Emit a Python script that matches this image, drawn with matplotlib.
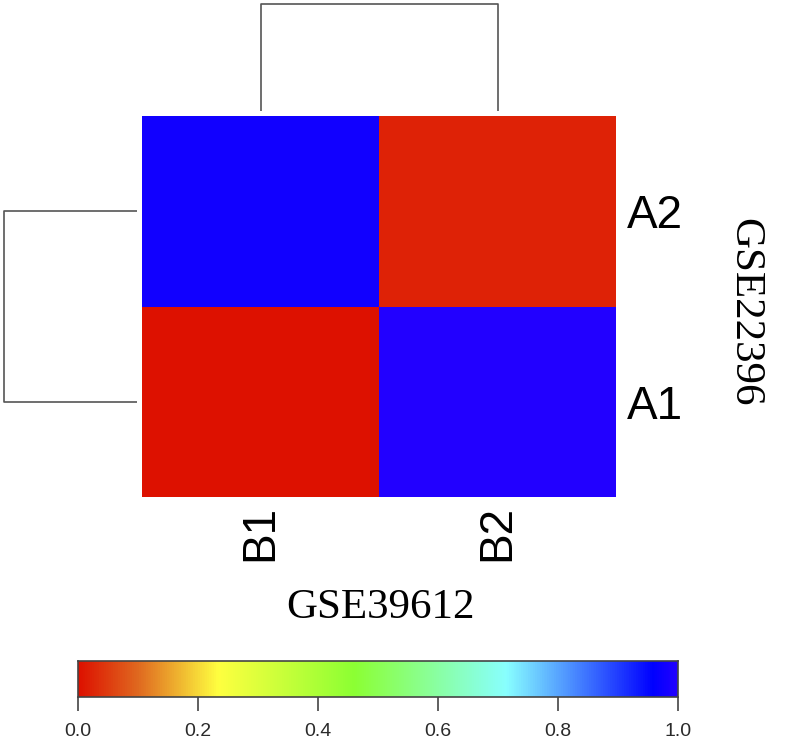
import numpy as np
import matplotlib.pyplot as plt
from matplotlib.colors import LinearSegmentedColormap

# --------------------------
# data
# --------------------------
col_labels = ['B1', 'B2']
row_labels = ['A1', 'A2']   # bottom to top
values = np.array([
    [0.00, 1.00],   # A1
    [0.98, 0.02],   # A2
])
cbar_ticks = [0.0, 0.2, 0.4, 0.6, 0.8, 1.0]

# jet-like palette used in the original figure
cmap = LinearSegmentedColormap.from_list('rainbow_r', [
    (0.00, '#dd1100'),
    (0.10, '#e06a20'),
    (0.233, '#ffff40'),
    (0.46, '#8cff33'),
    (0.715, '#88ffff'),
    (0.96, '#0000ff'),
    (1.00, '#2200ff'),
])

W, H = 792, 746
fig = plt.figure(figsize=(W / 100, H / 100), dpi=100)


def fx(px):
    return px / W


def fy(px):
    return 1 - px / H


# heatmap
ax = fig.add_axes([fx(142), fy(497), fx(616 - 142), (497 - 116) / H])
ax.pcolormesh(np.arange(3), np.arange(3), values, cmap=cmap, vmin=0, vmax=1)
ax.set_xlim(0, 2)
ax.set_ylim(0, 2)
for s in ax.spines.values():
    s.set_visible(False)
ax.set_xticks([0.5, 1.5])
ax.set_xticklabels(col_labels, rotation=90, fontsize=33, family='Liberation Sans')
ax.set_yticks([0.5, 1.5])
ax.set_yticklabels(row_labels, fontsize=33, family='Liberation Sans')
ax.yaxis.tick_right()
ax.tick_params(length=0)
ax.tick_params(axis='y', pad=8)
ax.tick_params(axis='x', pad=6)

# column dendrogram
line_kw = dict(color='#555555', lw=1.2, solid_capstyle='butt')
axc = fig.add_axes([fx(142), fy(111), fx(616 - 142), (111 - 4) / H])
axc.set_xlim(0, 2)
axc.set_ylim(0, 1)
axc.plot([0.5, 0.5, 1.5, 1.5], [0, 1, 1, 0], **line_kw, clip_on=False)
axc.axis('off')

# row dendrogram
axr = fig.add_axes([fx(4), fy(497), fx(137 - 4), (497 - 116) / H])
axr.set_ylim(0, 2)
axr.set_xlim(0, 1)
axr.plot([1, 0, 0, 1], [0.5, 0.5, 1.5, 1.5], **line_kw, clip_on=False)
axr.axis('off')

# axis titles
fig.text(fx(380), fy(608), 'GSE39612', fontsize=31, family='Liberation Serif',
         ha='center', va='center')
fig.text(fx(745), fy(312), 'GSE22396', fontsize=31, family='Liberation Serif',
         ha='center', va='center', rotation=270)

# colour key
axb = fig.add_axes([fx(78), fy(697), fx(678 - 78), (697 - 661) / H])
grad = np.linspace(0, 1, 512).reshape(1, -1)
axb.imshow(grad, aspect='auto', cmap=cmap, extent=[0, 1, 0, 1])
axb.set_xlim(0, 1)
axb.set_yticks([])
axb.set_xticks(cbar_ticks)
axb.set_xticklabels([f'{t:.1f}' for t in cbar_ticks], fontsize=14,
                    family='Liberation Sans', color='#2a2a2a')
axb.tick_params(axis='x', length=10, width=1.2, color='#444444', pad=9)
for s in axb.spines.values():
    s.set_color('#444444')
    s.set_linewidth(1.2)

fig.savefig('out.png', dpi=100)
